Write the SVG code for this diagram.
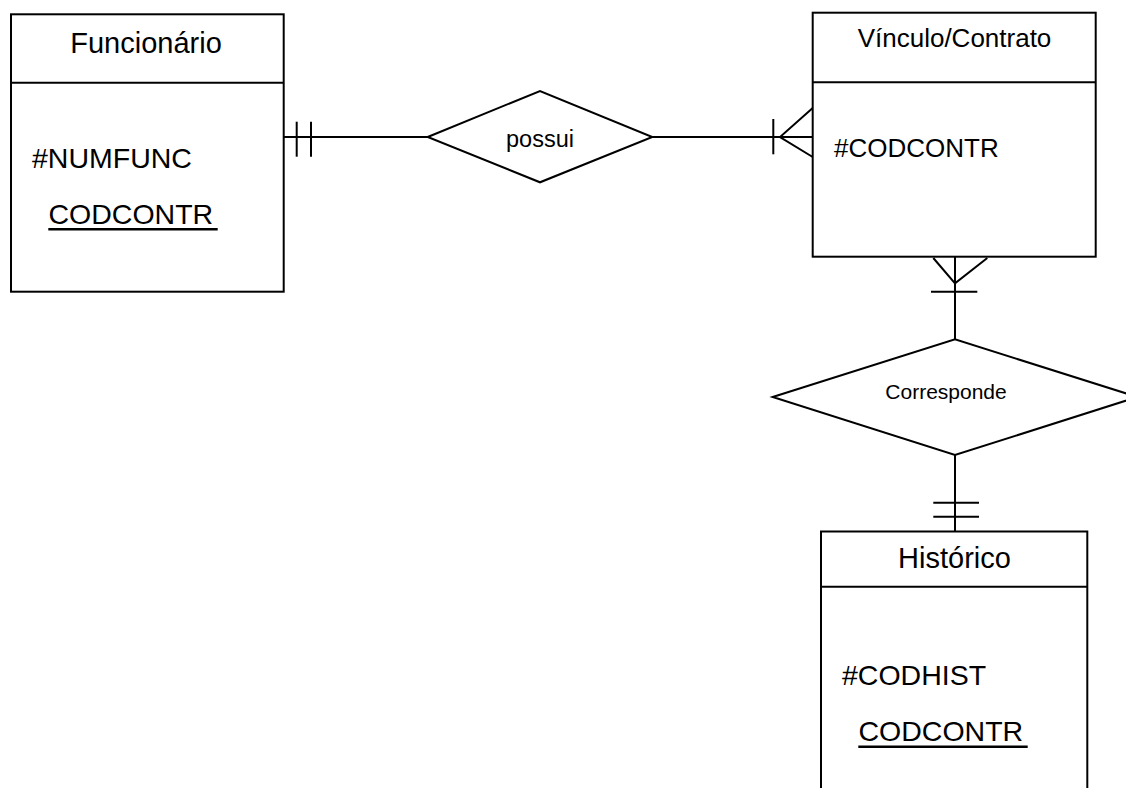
<svg xmlns="http://www.w3.org/2000/svg" width="1126" height="788" viewBox="0 0 1126 788">
  <style>
    .shape { fill: #fff; stroke: #000; stroke-width: 2; }
    .edge { fill: none; stroke: #000; stroke-width: 2; }
    .ul { stroke: #000; stroke-width: 2.5; }
    text { font-family: "Liberation Sans", Arial, sans-serif; fill: #000; }
    .title { font-size: 29px; text-anchor: middle; }
    .title-sm { font-size: 26px; text-anchor: middle; }
    .attr { font-size: 28.5px; }
    .attr-sm { font-size: 26px; }
    .rel { text-anchor: middle; }
  </style>
  <rect width="1126" height="788" fill="#fff"/>

  <!-- relationship lines with cardinality marks -->
  <g id="connectors">
    <!-- Funcionario — possui — Vinculo/Contrato -->
    <line class="edge" x1="283.5" y1="137" x2="427.7" y2="137"/>
    <line class="edge" x1="296.7" y1="121.7" x2="296.7" y2="156.7"/>
    <line class="edge" x1="311" y1="121.7" x2="311" y2="156.7"/>
    <line class="edge" x1="652.3" y1="137" x2="812.7" y2="137"/>
    <line class="edge" x1="773.3" y1="119" x2="773.3" y2="154.3"/>
    <polyline class="edge" points="812.7,108 780,137 812.7,157"/>
    <!-- Vinculo/Contrato — Corresponde — Historico -->
    <line class="edge" x1="955" y1="256.7" x2="955" y2="339.3"/>
    <polyline class="edge" points="933.3,258 955,283.3 987.3,258"/>
    <line class="edge" x1="931" y1="291.7" x2="977.3" y2="291.7"/>
    <line class="edge" x1="955" y1="455" x2="955" y2="531"/>
    <line class="edge" x1="933.3" y1="502.7" x2="979" y2="502.7"/>
    <line class="edge" x1="933.3" y1="516.7" x2="979" y2="516.7"/>
  </g>

  <g id="funcionario">
    <rect class="shape" x="11" y="14.3" width="272.7" height="277.4"/>
    <line class="edge" x1="11" y1="82.7" x2="283.7" y2="82.7"/>
    <text class="title" x="146" y="53">Funcionário</text>
    <text class="attr" x="32" y="167.7">#NUMFUNC</text>
    <text class="attr" x="48.5" y="224">CODCONTR</text>
    <line class="ul" x1="48.3" y1="229.3" x2="217.7" y2="229.3"/>
  </g>

  <g id="possui">
    <polygon class="shape" points="427.7,137 540,91 652.3,137 540,182.3"/>
    <text class="rel" x="540" y="146.7" font-size="23.5">possui</text>
  </g>

  <g id="vinculo-contrato">
    <rect class="shape" x="812.7" y="12.7" width="283" height="244"/>
    <line class="edge" x1="812.7" y1="82.3" x2="1095.7" y2="82.3"/>
    <text class="title-sm" x="954.5" y="47">Vínculo/Contrato</text>
    <text class="attr-sm" x="834" y="156.7">#CODCONTR</text>
  </g>

  <g id="corresponde">
    <polygon class="shape" points="772.7,397 955,339.3 1137.3,397 955,455"/>
    <text class="rel" x="946" y="399" font-size="21">Corresponde</text>
  </g>

  <g id="historico">
    <path class="shape" d="M821,790 V531.5 H1087.3 V790"/>
    <line class="edge" x1="821" y1="586.7" x2="1087.3" y2="586.7"/>
    <text class="title" x="954.5" y="568.3">Histórico</text>
    <text class="attr" x="842" y="685">#CODHIST</text>
    <text class="attr" x="858.5" y="741">CODCONTR</text>
    <line class="ul" x1="858.3" y1="746.7" x2="1027.7" y2="746.7"/>
  </g>
</svg>
